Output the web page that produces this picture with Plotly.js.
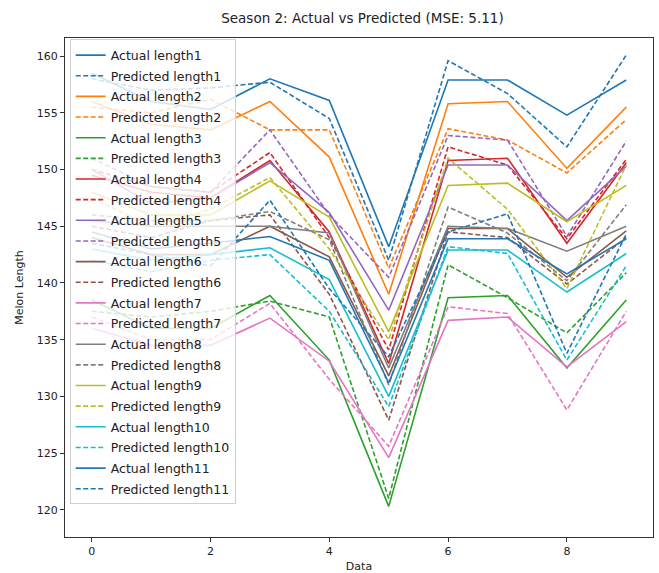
<!DOCTYPE html>
<html>
<head>
<meta charset="utf-8">
<script src="https://cdn.plot.ly/plotly-3.0.1.min.js"></script>
<style>html,body{margin:0;padding:0;background:#fff;}#chart{width:659px;height:573px;}</style>
</head>
<body>
<div id="chart"></div>
<script>
const xValues = [0, 1, 2, 3, 4, 5, 6, 7, 8, 9];

const actual1 = [158.5, 156.0, 155.3, 158.0, 156.1, 143.2, 157.9, 157.9, 154.8, 157.9];
const predicted1 = [158.0, 157.0, 157.2, 157.7, 154.5, 142.0, 159.6, 156.7, 152.0, 160.1];
const actual2 = [156.0, 154.0, 153.5, 156.0, 151.1, 139.0, 155.8, 156.0, 150.1, 155.5];
const predicted2 = [155.5, 155.0, 156.2, 153.5, 153.5, 141.3, 153.6, 152.6, 149.7, 154.4];
const actual3 = [138.5, 136.0, 136.0, 138.9, 133.2, 120.3, 138.7, 138.9, 132.5, 138.5];
const predicted3 = [137.5, 137.0, 137.5, 138.4, 137.0, 121.0, 141.6, 138.7, 135.6, 140.9];
const actual4 = [149.5, 148.0, 147.5, 150.8, 144.5, 132.9, 150.8, 151.0, 143.5, 150.6];
const predicted4 = [150.0, 148.5, 148.0, 151.5, 144.0, 134.1, 152.0, 150.4, 143.9, 150.9];
const actual5 = [150.0, 147.0, 147.5, 150.6, 146.2, 137.6, 150.4, 150.4, 145.5, 150.3];
const predicted5 = [151.0, 148.5, 148.0, 153.5, 146.0, 140.5, 153.0, 152.6, 144.1, 152.5];
const actual6 = [144.0, 142.5, 142.5, 145.0, 142.3, 131.8, 144.8, 144.8, 140.5, 144.6];
const predicted6 = [145.0, 144.0, 145.5, 146.0, 139.0, 127.9, 144.5, 144.0, 139.9, 144.0];
const actual7 = [136.0, 134.5, 134.5, 136.9, 133.1, 124.6, 136.7, 137.0, 132.6, 136.6];
const predicted7 = [137.0, 135.0, 135.0, 138.2, 131.5, 125.6, 137.9, 137.3, 128.8, 137.5];
const actual8 = [145.5, 145.0, 145.0, 145.0, 144.4, 132.5, 145.0, 144.8, 142.8, 145.0];
const predicted8 = [146.0, 145.5, 145.5, 146.3, 143.8, 131.0, 146.7, 144.4, 140.2, 146.9];
const actual9 = [148.0, 146.0, 146.0, 149.0, 145.8, 135.7, 148.6, 148.8, 145.4, 148.6];
const predicted9 = [147.5, 145.0, 146.5, 149.3, 143.0, 135.0, 151.0, 146.5, 139.5, 150.4];
const actual10 = [143.0, 142.0, 142.5, 143.1, 140.3, 130.0, 142.9, 142.9, 139.2, 142.6];
const predicted10 = [142.0, 141.0, 142.0, 142.5, 137.5, 129.1, 143.2, 142.6, 133.2, 141.5];
const actual11 = [144.5, 143.0, 143.5, 144.1, 142.0, 131.2, 143.9, 143.9, 140.8, 143.9];
const predicted11 = [143.5, 142.5, 141.5, 147.3, 139.5, 133.5, 144.5, 146.1, 133.8, 144.3];

const actualSeries = [actual1, actual2, actual3, actual4, actual5, actual6, actual7, actual8, actual9, actual10, actual11];
const predictedSeries = [predicted1, predicted2, predicted3, predicted4, predicted5, predicted6, predicted7, predicted8, predicted9, predicted10, predicted11];
const colors = ['#1f77b4', '#ff7f0e', '#2ca02c', '#d62728', '#9467bd', '#8c564b', '#e377c2', '#7f7f7f', '#bcbd22', '#17becf', '#1f77b4'];

const traces = [];
for (let i = 0; i < actualSeries.length; i++) {
  traces.push({
    x: xValues, y: actualSeries[i], type: 'scatter', mode: 'lines',
    name: 'Actual length' + (i + 1), legendgroup: 'a' + i,
    line: {color: colors[i], width: 1.6}
  });
  traces.push({
    x: xValues, y: predictedSeries[i], type: 'scatter', mode: 'lines',
    name: 'Predicted length' + (i + 1), legendgroup: 'p' + i,
    line: {color: colors[i], width: 1.6, dash: '5px,2.5px'}
  });
}

const font = {family: 'DejaVu Sans, sans-serif', color: '#222', size: 11};
const layout = {
  width: 659, height: 573,
  margin: {l: 65, r: 6, t: 38, b: 36},
  paper_bgcolor: '#fff', plot_bgcolor: '#fff',
  font: font,
  showlegend: true,
  title: {text: 'Season 2: Actual vs Predicted (MSE: 5.11)', font: {family: 'DejaVu Sans, sans-serif', size: 13.5, color: '#222'}, x: 0.55, xanchor: 'center', y: 0.968, yanchor: 'middle'},
  xaxis: {
    range: [-0.45, 9.45], tickvals: [0, 2, 4, 6, 8], ticktext: ['0', '2', '4', '6', '8'],
    showgrid: false, zeroline: false, showline: true, mirror: true, linecolor: '#333', linewidth: 1,
    ticks: 'outside', ticklen: 4, tickcolor: '#333',
    title: {text: 'Data', font: {family: 'DejaVu Sans, sans-serif', size: 11, color: '#222'}, standoff: 6}
  },
  yaxis: {
    range: [117.6, 161.6], tickvals: [120, 125, 130, 135, 140, 145, 150, 155, 160],
    showgrid: false, zeroline: false, showline: true, mirror: true, linecolor: '#333', linewidth: 1,
    ticks: 'outside', ticklen: 4, tickcolor: '#333',
    title: {text: 'Melon Length', font: {family: 'DejaVu Sans, sans-serif', size: 11, color: '#222'}, standoff: 10}
  },
  legend: {
    x: 0.008, y: 0.997, xanchor: 'left', yanchor: 'top',
    bgcolor: 'rgba(255,255,255,0.8)', bordercolor: '#d0d0d0', borderwidth: 1,
    font: {family: 'DejaVu Sans, sans-serif', size: 12.5, color: '#222'},
    tracegroupgap: 1.4, itemwidth: 30
  }
};

Plotly.newPlot('chart', traces, layout, {displayModeBar: false, staticPlot: true});
</script>
</body>
</html>
